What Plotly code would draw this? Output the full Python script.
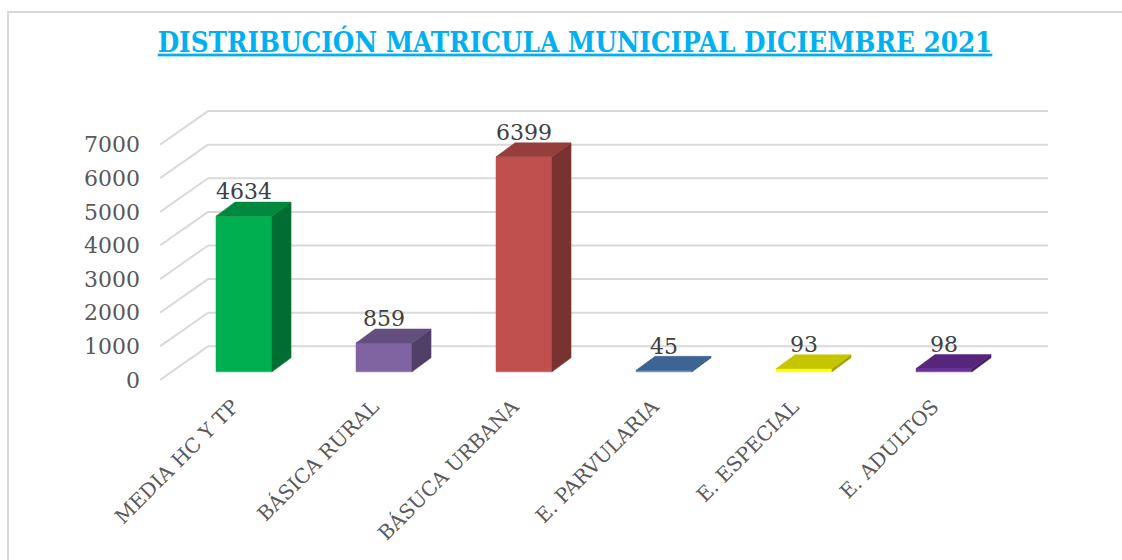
import plotly.graph_objects as go

# ---- data ----
categories = ["MEDIA HC Y TP", "BÁSICA RURAL", "BÁSUCA URBANA",
              "E. PARVULARIA", "E. ESPECIAL", "E. ADULTOS"]
values = [4634, 859, 6399, 45, 93, 98]
front_colors = ["#00B050", "#8064A2", "#C0504D", "#4F81BD", "#FFFF00", "#7030A0"]
y_ticks = [0, 1000, 2000, 3000, 4000, 5000, 6000, 7000]
title_text = "DISTRIBUCIÓN MATRICULA MUNICIPAL DICIEMBRE 2021"

# ---- 3D look (styling constants) ----
BAR_W = 0.4          # bar width in category units
BASE = 240           # bar floor offset (value units)
BX, BY = 0.136, 417  # bar depth offset (x units, value units)
WX, WY = 0.343, 1000 # wall depth offset
X_LEFT, X_RIGHT = -0.6, 5.743
GRID = "#D9D9D9"
SERIF = "DejaVu Serif"


def shade(hexc, f):
    h = hexc.lstrip("#")
    r, g, b = (int(h[i:i + 2], 16) for i in (0, 2, 4))
    return "#%02X%02X%02X" % (int(r * f), int(g * f), int(b * f))


fig = go.Figure()

# gridlines (left wall diagonal + back wall horizontal)
shapes = []
for v in y_ticks:
    shapes.append(dict(type="line", xref="x", yref="y", layer="below",
                       x0=X_LEFT, y0=v, x1=X_LEFT + WX, y1=v + WY,
                       line=dict(color=GRID, width=2)))
    shapes.append(dict(type="line", xref="x", yref="y", layer="below",
                       x0=X_LEFT + WX, y0=v + WY, x1=X_RIGHT, y1=v + WY,
                       line=dict(color=GRID, width=2)))
# outer frame
shapes.append(dict(type="rect", xref="paper", yref="paper",
                   x0=(8 - 160) / 896, y0=(390 - 12) / 289,
                   x1=(1140 - 160) / 896, y1=(390 - 600) / 289,
                   line=dict(color="#D9D9D9", width=2), layer="below"))

xs = list(range(len(categories)))

# front faces
fig.add_trace(go.Bar(x=xs, y=values, base=[BASE] * len(values), width=BAR_W,
                     marker=dict(color=front_colors, line=dict(color=front_colors, width=0.5)),
                     hoverinfo="skip", showlegend=False))

# side and top faces
for i, (v, c) in enumerate(zip(values, front_colors)):
    xr = i + BAR_W / 2
    xl = i - BAR_W / 2
    top = BASE + v
    fig.add_trace(go.Scatter(
        x=[xr, xr + BX, xr + BX, xr, xr], y=[BASE, BASE + BY, top + BY, top, BASE],
        mode="lines", fill="toself", fillcolor=shade(c, 0.63),
        line=dict(color=shade(c, 0.63), width=0.5), hoverinfo="skip", showlegend=False))
    fig.add_trace(go.Scatter(
        x=[xl, xr, xr + BX, xl + BX, xl], y=[top, top, top + BY, top + BY, top],
        mode="lines", fill="toself", fillcolor=shade(c, 0.78),
        line=dict(color=shade(c, 0.78), width=0.5), hoverinfo="skip", showlegend=False))

# data labels
fig.add_trace(go.Scatter(
    x=xs, y=[BASE + v + BY - 80 for v in values], mode="text",
    text=[str(v) for v in values], textposition="top center",
    textfont=dict(family=SERIF, size=22, color="#404040"),
    hoverinfo="skip", showlegend=False))

fig.update_layout(
    width=1122, height=560,
    margin=dict(l=160, r=66, t=101, b=170),
    paper_bgcolor="white", plot_bgcolor="rgba(0,0,0,0)",
    shapes=shapes,
    title=dict(text="<b><u>" + title_text + "</u></b>",
               font=dict(family="DejaVu Serif Condensed", size=27.5, color="#00B0F0"),
               x=575 / 1122, xanchor="center", y=1 - 42 / 560, yanchor="middle"),
    xaxis=dict(range=[-0.6, 5.8], tickvals=xs, ticktext=categories, tickangle=-45,
               showgrid=False, zeroline=False, showline=False, ticks="",
               ticklabelshift=-11,
               tickfont=dict(family=SERIF, size=20, color="#595959")),
    yaxis=dict(range=[-300, 8300], tickvals=y_ticks, ticktext=[str(t) for t in y_ticks],
               showgrid=False, zeroline=False, showline=False, ticks="",
               ticklabelstandoff=19,
               tickfont=dict(family=SERIF, size=22, color="#595959")),
)

fig.write_html("out.html", config={"displayModeBar": False},
               post_script="document.body.style.margin='0';")
